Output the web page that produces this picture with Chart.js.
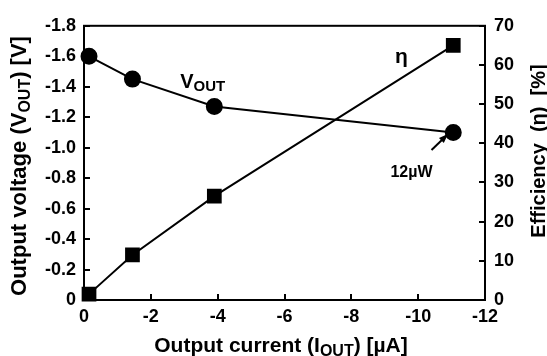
<!DOCTYPE html>
<html>
<head>
<meta charset="utf-8">
<script src="https://cdn.jsdelivr.net/npm/chart.js@4"></script>
<style>
  html, body { margin: 0; padding: 0; background: #fff; }
  #wrap { width: 547px; height: 356px; }
</style>
</head>
<body>
<div id="wrap"><canvas id="chartCanvas"></canvas></div>
<script>
// values
const currentUA = [-0.15, -1.45, -3.9, -11.05];
const voutV = [-1.60, -1.45, -1.27, -1.10];
const efficiencyPct = [1.5, 11.5, 26.5, 65];

const xTickValues = [0, -2, -4, -6, -8, -10, -12];
const voutTickValues = [0, -0.2, -0.4, -0.6, -0.8, -1.0, -1.2, -1.4, -1.6, -1.8];
const effTickValues = [0, 10, 20, 30, 40, 50, 60, 70];

const FONT = '"Liberation Sans", Arial, sans-serif';

function setTicks(values) {
    return scale => { scale.ticks = values.map(v => ({ value: v })); };
}

function drawRich(ctx, parts, x, y, rot) {
    ctx.save();
    ctx.translate(x, y);
    ctx.rotate(rot || 0);
    ctx.textBaseline = 'alphabetic';
    ctx.textAlign = 'left';
    let total = 0;
    parts.forEach(p => {
        ctx.font = 'bold ' + p.size + 'px ' + FONT;
        p.w = ctx.measureText(p.text).width;
        total += p.w;
    });
    let cx = -total / 2;
    parts.forEach(p => {
        ctx.font = 'bold ' + p.size + 'px ' + FONT;
        ctx.fillText(p.text, cx, p.dy || 0);
        cx += p.w;
    });
    ctx.restore();
}

const textPlugin = {
    id: 'texts',
    beforeDatasetsDraw(chart) {
        const { ctx, chartArea: a } = chart;
        ctx.save();
        ctx.strokeStyle = '#000';
        ctx.lineWidth = 2;
        ctx.strokeRect(a.left, a.top, a.right - a.left, a.bottom - a.top);
        ctx.restore();
    },
    afterDatasetsDraw(chart) {
        const { ctx, chartArea: a, scales } = chart;
        ctx.save();
        ctx.fillStyle = '#000';
        // axis titles
        drawRich(ctx, [
            { text: 'Output current (I', size: 21 },
            { text: 'OUT', size: 16, dy: 4 },
            { text: ') [\u00b5A]', size: 21 }
        ], 281, 352);
        drawRich(ctx, [
            { text: 'Output voltage (V', size: 22 },
            { text: 'OUT', size: 16, dy: 4 },
            { text: ') [V]', size: 22 }
        ], 26, 166, -Math.PI / 2);
        drawRich(ctx, [
            { text: 'Efficiency  (\u03b7)  [%]', size: 20 }
        ], 545, 151, -Math.PI / 2);

        // in-plot labels, anchored through the scales
        const x = scales.x, y1 = scales.y1, y2 = scales.y2;
        drawRich(ctx, [
            { text: 'V', size: 20 },
            { text: 'OUT', size: 15, dy: 3 }
        ], x.getPixelForValue(-3.55), y1.getPixelForValue(-1.39));
        drawRich(ctx, [{ text: '\u03b7', size: 21 }],
            x.getPixelForValue(-9.5), y2.getPixelForValue(60.5));
        drawRich(ctx, [{ text: '12\u00b5W', size: 16 }],
            x.getPixelForValue(-9.8), y2.getPixelForValue(31.5));

        // arrow to the 12 uW point
        const x0 = x.getPixelForValue(-10.4), yA = y2.getPixelForValue(38.3);
        const x1 = x.getPixelForValue(-10.85), yB = y2.getPixelForValue(42);
        ctx.strokeStyle = '#000';
        ctx.lineWidth = 2;
        ctx.beginPath();
        ctx.moveTo(x0, yA);
        ctx.lineTo(x1, yB);
        ctx.stroke();
        const ang = Math.atan2(yB - yA, x1 - x0);
        ctx.beginPath();
        ctx.moveTo(x1 + 2 * Math.cos(ang), yB + 2 * Math.sin(ang));
        ctx.lineTo(x1 - 8 * Math.cos(ang - 0.45), yB - 8 * Math.sin(ang - 0.45));
        ctx.lineTo(x1 - 8 * Math.cos(ang + 0.45), yB - 8 * Math.sin(ang + 0.45));
        ctx.closePath();
        ctx.fill();
        ctx.restore();
    }
};

const tickFont = { family: FONT, size: 18, weight: 'bold' };

new Chart(document.getElementById('chartCanvas'), {
    type: 'line',
    data: {
        datasets: [{
            label: 'VOUT',
            data: currentUA.map((c, i) => ({ x: c, y: voutV[i] })),
            yAxisID: 'y1',
            borderColor: '#000',
            backgroundColor: '#000',
            borderWidth: 2,
            pointStyle: 'circle',
            pointRadius: 7.5,
            clip: false
        }, {
            label: 'Efficiency',
            data: currentUA.map((c, i) => ({ x: c, y: efficiencyPct[i] })),
            yAxisID: 'y2',
            borderColor: '#000',
            backgroundColor: '#000',
            borderWidth: 2,
            pointStyle: 'rect',
            pointRadius: 9,
            clip: false
        }]
    },
    options: {
        responsive: true,
        maintainAspectRatio: false,
        animation: false,
        layout: { padding: { top: 17, left: 0, right: 0, bottom: 0 } },
        plugins: { legend: { display: false }, tooltip: { enabled: false } },
        scales: {
            x: {
                type: 'linear',
                reverse: true,
                min: -12,
                max: 0,
                afterBuildTicks: setTicks(xTickValues),
                afterFit: s => { s.height = 56; },
                ticks: { color: '#000', font: tickFont, padding: 12, maxRotation: 0,
                    callback: v => String(v) },
                grid: { drawOnChartArea: false, tickLength: -6, color: '#000', lineWidth: 2 },
                border: { color: '#000', width: 2 }
            },
            y1: {
                position: 'left',
                reverse: true,
                min: -1.8,
                max: 0,
                afterBuildTicks: setTicks(voutTickValues),
                afterFit: s => { s.width = 84; },
                ticks: { color: '#000', font: tickFont, padding: 14,
                    callback: v => v === 0 ? '0' : v.toFixed(1) },
                grid: { drawOnChartArea: false, tickLength: -6, color: '#000', lineWidth: 2 },
                border: { color: '#000', width: 2 }
            },
            y2: {
                position: 'right',
                min: 0,
                max: 70,
                afterBuildTicks: setTicks(effTickValues),
                afterFit: s => { s.width = 62; },
                ticks: { color: '#000', font: tickFont, padding: 15,
                    callback: v => String(v) },
                grid: { drawOnChartArea: false, tickLength: -6, color: '#000', lineWidth: 2 },
                border: { color: '#000', width: 2 }
            }
        }
    },
    plugins: [textPlugin]
});
</script>
</body>
</html>
